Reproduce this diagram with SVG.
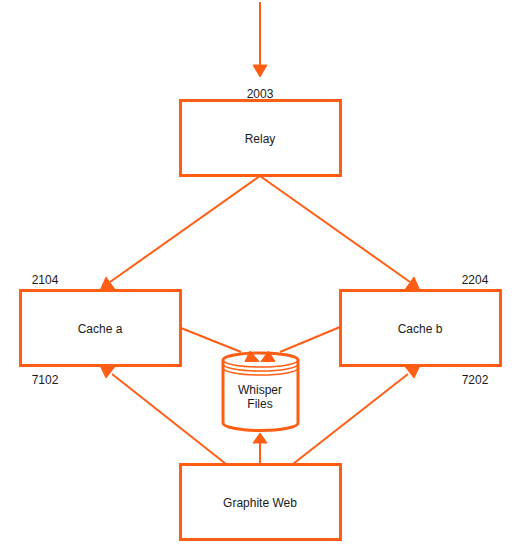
<svg xmlns="http://www.w3.org/2000/svg" width="526" height="559" viewBox="0 0 526 559">
<style>
.box{fill:#fff;stroke:#ff5e14;stroke-width:3}
.c{fill:none;stroke:#ff5e14;stroke-width:2}
.h{fill:#ff5e14;stroke:#ff5e14;stroke-width:1}
text{font-family:"Liberation Sans",Arial,sans-serif;font-size:12px;fill:#1a1a1a}
.m{text-anchor:middle}
</style>
<rect width="526" height="559" fill="#fff"/>
<g id="connectors">
<path class="c" d="M260 2V66"/><polygon class="h" points="260,77 253,65 267,65"/>
<path class="c" d="M260 176L110 282"/><polygon class="h" points="100.500,289.500 106,277 115,289.500"/>
<path class="c" d="M260 176L410 282"/><polygon class="h" points="419.500,289.500 405,289.500 414,277"/>
<path class="c" d="M181 328L241 352"/>
<path class="c" d="M340 327L280 352"/>
<path class="c" d="M226 464L112 374"/><polygon class="h" points="100.500,366.500 115,366.500 106,378"/>
<path class="c" d="M293 464L408 374"/><polygon class="h" points="419.500,366.500 414,378 405,366.500"/>
<path class="c" d="M260 464V442"/><polygon class="h" points="260,433 267,443 253,443"/>
</g>
<g id="relay"><rect class="box" x="180.500" y="100.500" width="160" height="75"/><text class="m" x="260" y="143">Relay</text></g>
<g id="cache-a"><rect class="box" x="20.500" y="290.500" width="160" height="75"/><text class="m" x="100" y="333">Cache a</text></g>
<g id="cache-b"><rect class="box" x="340.500" y="290.500" width="160" height="75"/><text class="m" x="420" y="333">Cache b</text></g>
<g id="graphite-web"><rect class="box" x="180.500" y="464.500" width="160" height="75"/><text class="m" x="260" y="507">Graphite Web</text></g>
<g id="whisper-files">
<path d="M223 360A37.500 7 0 0 1 298 360V423A37.500 7.500 0 0 1 223 423Z" style="fill:#fff;stroke:#ff5e14;stroke-width:3"/>
<path d="M223 360A37.500 7 0 0 0 298 360M223 364A37.500 7 0 0 0 298 364M223 368A37.500 7 0 0 0 298 368" style="fill:none;stroke:#ff5e14;stroke-width:1.500"/>
<text class="m" x="260" y="394">Whisper</text><text class="m" x="260" y="408">Files</text>
<polygon class="h" points="250,351 245,361.500 259,361.500"/><polygon class="h" points="268.500,351 261,361.500 275,361.500"/>
</g>
<g id="labels">
<text class="m" x="260" y="98">2003</text>
<text class="m" x="45" y="284">2104</text>
<text class="m" x="45" y="384">7102</text>
<text class="m" x="475" y="284">2204</text>
<text class="m" x="475" y="384">7202</text>
</g>
</svg>
